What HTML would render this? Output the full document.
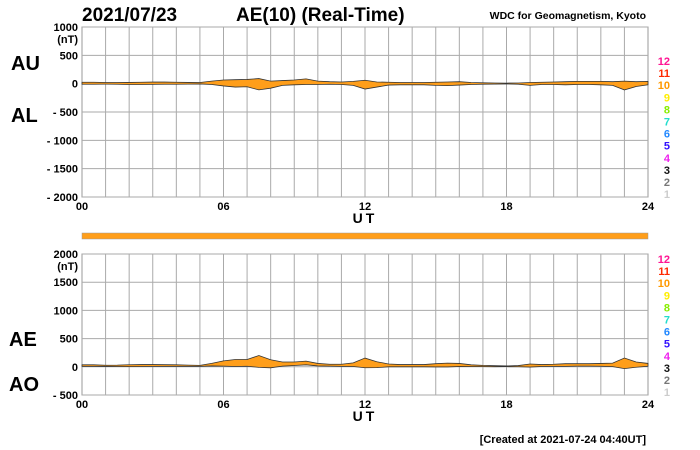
<!DOCTYPE html>
<html><head><meta charset="utf-8"><style>
body{margin:0;background:#fff;width:700px;height:450px;overflow:hidden}
svg{display:block;font-family:"Liberation Sans",Arial,sans-serif}
</style></head><body>
<svg id="c" width="700" height="450">
<text x="82" y="21" font-size="19" font-weight="bold">2021/07/23</text>
<text x="236" y="21" font-size="19" font-weight="bold">AE(10) (Real-Time)</text>
<text x="646" y="19" font-size="10.5" font-weight="bold" text-anchor="end">WDC for Geomagnetism, Kyoto</text>
<text x="11" y="70" font-size="20" font-weight="bold">AU</text>
<text x="11" y="122" font-size="20" font-weight="bold">AL</text>
<text x="9" y="346" font-size="20" font-weight="bold">AE</text>
<text x="9" y="391" font-size="20" font-weight="bold">AO</text>
<text x="646" y="443" font-size="11" font-weight="bold" text-anchor="end">[Created at 2021-07-24 04:40UT]</text>
<g id="g"></g>
</svg>
<script>
// hourly half-steps 0..24 (49 points)
const hours=[0,0.5,1,1.5,2,2.5,3,3.5,4,4.5,5,5.5,6,6.5,7,7.5,8,8.5,9,9.5,10,10.5,11,11.5,12,12.5,13,13.5,14,14.5,15,15.5,16,16.5,17,17.5,18,18.5,19,19.5,20,20.5,21,21.5,22,22.5,23,23.5,24];
const AU=[25,25,20,20,22,25,28,28,25,22,20,45,65,70,75,90,45,55,65,85,45,35,30,40,60,30,25,20,20,20,25,30,35,20,15,12,10,12,20,25,30,35,40,40,40,35,45,35,40];
const AL=[-10,-10,-8,-10,-15,-15,-12,-10,-10,-8,-5,-15,-40,-60,-55,-110,-80,-30,-20,-15,-15,-10,-15,-30,-95,-60,-25,-20,-20,-20,-30,-35,-25,-15,-10,-8,-5,-10,-30,-15,-15,-20,-15,-15,-20,-30,-110,-50,-20];
const AE=AU.map((u,i)=>u-AL[i]);
const AO=AU.map((u,i)=>(u+AL[i])/2);
const yTop=[1000,500,0,-500,-1000,-1500,-2000];
const yBot=[2000,1500,1000,500,0,-500];
const xTicks=["00","06","12","18","24"];
const legendNums=["12","11","10","9","8","7","6","5","4","3","2","1"];
const legendCols=["#ff1493","#ff2a00","#ff9900","#ffee00","#88ee00","#22ddcc","#2288ff","#3311ff","#ee22ee","#111","#777","#ccc"];
const NS="http://www.w3.org/2000/svg",g=document.getElementById('g');
const X0=82,X1=648;
const x=h=>X0+(X1-X0)*h/24;
function mk(t,a,txt){const e=document.createElementNS(NS,t);for(const k in a)e.setAttribute(k,a[k]);if(txt!=null)e.textContent=txt;g.appendChild(e);return e;}
function panel(name,top,bot,vmax,vmin,ticks,upper,lower,legY){
  const y=v=>top+(vmax-v)/(vmax-vmin)*(bot-top);
  const bg=mk('rect',{x:X0,y:top,width:X1-X0,height:bot-top,fill:'#fff',stroke:'#999','stroke-width':1});
  
  for(let h=1;h<24;h++){const l=mk('line',{x1:x(h),x2:x(h),y1:top,y2:bot,stroke:'#aaa','stroke-width':1});}
  ticks.forEach((v,i)=>{
    const l=mk('line',{x1:X0,x2:X1,y1:y(v),y2:y(v),stroke:'#aaa','stroke-width':1});
    const s=v<0?'- '+(-v):String(v);
    const t=mk('text',{x:X0-4,y:y(v)+4,'font-size':11,'font-weight':'bold','text-anchor':'end'},s);
    if(i==0){const u=mk('text',{x:X0-4,y:y(v)+16,'font-size':11,'font-weight':'bold','text-anchor':'end'},'(nT)');}
  });
  xTicks.forEach((s,i)=>{const t=mk('text',{x:x(i*6),y:bot+13,'font-size':11,'font-weight':'bold','text-anchor':'middle'},s);});
  const ut=mk('text',{x:365,y:bot+26,'font-size':14,'font-weight':'bold','text-anchor':'middle','letter-spacing':'3'},'UT');
  let d='M'+hours.map((h,i)=>x(h)+','+y(upper[i])).join(' L');
  for(let i=hours.length-1;i>=0;i--)d+=' L'+x(hours[i])+','+y(lower[i]);
  const p=mk('path',{d:d+'Z',fill:'#ff9e1a',stroke:'#333','stroke-width':0.8});
  legendNums.forEach((n,i)=>{const t=mk('text',{x:670,y:legY+i*12.1,'font-size':11,'font-weight':'bold','text-anchor':'end',fill:legendCols[i]},n);});
}
panel('au-al',27,197,1000,-2000,yTop,AU,AL,65);
panel('ae-ao',254,395,2000,-500,yBot,AE,AO,263);
const bar=mk('rect',{x:X0,y:233,width:X1-X0,height:6,fill:'#ff9e1a',stroke:'#999','stroke-width':0.5});

</script>
</body></html>
